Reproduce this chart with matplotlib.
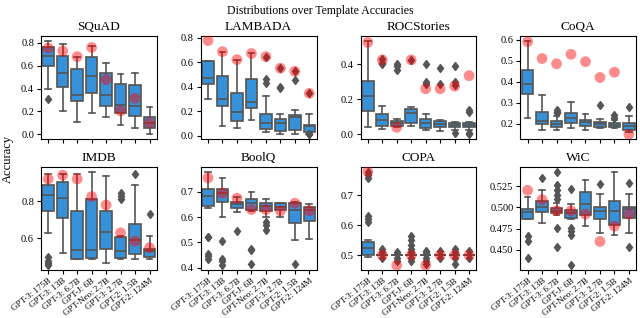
import matplotlib
matplotlib.use('Agg')
from matplotlib import pyplot as plt

plt.rcParams['font.family'] = ['Liberation Serif', 'DejaVu Serif']

# Models on the x axis.
models = ['GPT-3: 175B', 'GPT-3: 13B', 'GPT-3: 6.7B', 'GPT-J: 6B',
          'GPT-Neo: 2.7B', 'GPT-3: 2.7B', 'GPT-2: 1.5B', 'GPT-2: 124M']

# Box stats per model: [whisker low, q1, median, q3, whisker high].
squad_boxes = [[0.40, 0.60, 0.685, 0.76, 0.82], [0.20, 0.41, 0.54, 0.685, 0.79],
               [0.11, 0.29, 0.34, 0.57, 0.68], [0.185, 0.36, 0.51, 0.68, 0.77],
               [0.15, 0.245, 0.34, 0.54, 0.62], [0.08, 0.19, 0.26, 0.44, 0.53],
               [0.055, 0.16, 0.245, 0.43, 0.54], [0.0, 0.055, 0.10, 0.155, 0.235]]
squad_fliers = [[0.31], [], [], [], [], [], [], []]
squad_best = [0.755, 0.73, 0.68, 0.76, 0.48, 0.205, 0.315, 0.10]

lambada_boxes = [[0.30, 0.42, 0.47, 0.61, 0.61], [0.08, 0.24, 0.30, 0.485, 0.68],
                 [0.065, 0.12, 0.19, 0.345, 0.62], [0.13, 0.225, 0.27, 0.465, 0.67],
                 [0.03, 0.055, 0.105, 0.175, 0.325], [0.01, 0.035, 0.10, 0.135, 0.175],
                 [0.015, 0.045, 0.15, 0.165, 0.205], [0.01, 0.03, 0.08, 0.09, 0.18]]
lambada_fliers = [[], [], [], [], [0.465, 0.43, 0.645], [0.40, 0.385, 0.55],
                  [0.45, 0.525], [0.345, 0.01, 0.015]]
lambada_best = [0.775, 0.685, 0.62, 0.67, 0.645, 0.55, 0.525, 0.345]

roc_boxes = [[0.04, 0.135, 0.22, 0.305, 0.535], [0.03, 0.05, 0.08, 0.115, 0.16],
             [0.04, 0.045, 0.065, 0.075, 0.085], [0.045, 0.065, 0.12, 0.145, 0.155],
             [0.025, 0.035, 0.065, 0.09, 0.115], [0.02, 0.04, 0.06, 0.075, 0.08],
             [0.025, 0.04, 0.055, 0.065, 0.07], [0.025, 0.04, 0.055, 0.065, 0.07]]
roc_fliers = [[], [0.43, 0.41, 0.40], [0.40, 0.39, 0.37], [0.425],
              [0.40, 0.30, 0.29], [0.38, 0.29], [0.39, 0.30, 0.28, 0.005],
              [0.14, 0.13, 0.01, 0.0]]
roc_best = [0.525, 0.425, 0.04, 0.425, 0.26, 0.26, 0.275, 0.335]

coqa_boxes = [[0.23, 0.34, 0.39, 0.455, 0.595], [0.17, 0.20, 0.215, 0.255, 0.335],
              [0.17, 0.185, 0.20, 0.215, 0.235], [0.18, 0.205, 0.23, 0.25, 0.305],
              [0.17, 0.19, 0.21, 0.22, 0.245], [0.18, 0.185, 0.20, 0.21, 0.225],
              [0.18, 0.185, 0.195, 0.205, 0.22], [0.16, 0.17, 0.19, 0.205, 0.235]]
coqa_fliers = [[], [], [0.265, 0.255, 0.25], [], [], [0.29], [0.24, 0.23], [0.28]]
coqa_best = [0.59, 0.51, 0.485, 0.53, 0.495, 0.42, 0.445, 0.15]

imdb_boxes = [[0.63, 0.75, 0.835, 0.89, 0.945], [0.52, 0.71, 0.82, 0.905, 0.945],
              [0.49, 0.49, 0.54, 0.75, 0.945], [0.49, 0.495, 0.54, 0.81, 0.96],
              [0.465, 0.545, 0.635, 0.745, 0.935], [0.49, 0.495, 0.53, 0.61, 0.615],
              [0.49, 0.515, 0.59, 0.68, 0.885], [0.49, 0.50, 0.53, 0.545, 0.615]]
imdb_fliers = [[0.50, 0.48, 0.47, 0.455], [], [], [], [], [0.845, 0.83, 0.81],
               [0.945], [0.73]]
imdb_best = [0.92, 0.94, 0.92, 0.825, 0.78, 0.63, 0.585, 0.55]

boolq_boxes = [[0.635, 0.645, 0.685, 0.71, 0.78], [0.60, 0.66, 0.695, 0.71, 0.755],
               [0.62, 0.635, 0.65, 0.66, 0.68], [0.625, 0.63, 0.655, 0.67, 0.70],
               [0.60, 0.625, 0.645, 0.655, 0.67], [0.60, 0.63, 0.64, 0.655, 0.655],
               [0.51, 0.575, 0.63, 0.655, 0.66], [0.515, 0.585, 0.63, 0.64, 0.65]]
boolq_fliers = [[0.52, 0.52, 0.455, 0.445, 0.435], [0.505, 0.435, 0.425, 0.41],
                [0.545], [0.475, 0.47, 0.415], [0.58, 0.57, 0.55], [], [0.415], []]
boolq_best = [0.755, 0.695, 0.675, 0.63, 0.63, 0.625, 0.655, 0.625]

copa_boxes = [[0.495, 0.50, 0.525, 0.545, 0.55], [0.5, 0.5, 0.5, 0.5, 0.5],
              [0.5, 0.5, 0.5, 0.5, 0.5], [0.5, 0.5, 0.5, 0.5, 0.5],
              [0.5, 0.5, 0.5, 0.5, 0.5], [0.5, 0.5, 0.5, 0.5, 0.5],
              [0.5, 0.5, 0.5, 0.5, 0.5], [0.5, 0.5, 0.5, 0.5, 0.5]]
copa_fliers = [[0.78, 0.77, 0.76, 0.63, 0.62, 0.61], [0.52, 0.51, 0.49],
               [0.51, 0.505, 0.49, 0.48], [0.565, 0.55, 0.535, 0.52, 0.51, 0.49, 0.48],
               [0.515, 0.51, 0.505, 0.49, 0.48, 0.47], [0.515, 0.49],
               [0.52, 0.51, 0.49, 0.47], [0.515, 0.49]]
copa_best = [0.78, 0.5, 0.466, 0.5, 0.466, 0.5, 0.5, 0.5]

wic_boxes = [[0.486, 0.486, 0.495, 0.498, 0.512], [0.482, 0.495, 0.501, 0.508, 0.520],
             [0.491, 0.493, 0.496, 0.499, 0.505], [0.486, 0.488, 0.493, 0.497, 0.504],
             [0.478, 0.491, 0.504, 0.518, 0.532], [0.470, 0.486, 0.496, 0.501, 0.516],
             [0.467, 0.479, 0.496, 0.507, 0.542], [0.470, 0.487, 0.498, 0.500, 0.516]]
wic_fliers = [[0.466, 0.46, 0.44], [0.535],
              [0.541, 0.526, 0.52, 0.515, 0.51, 0.476, 0.453],
              [0.522, 0.476, 0.472, 0.468, 0.432], [], [0.527], [], [0.528, 0.453]]
wic_best = [0.52, 0.509, 0.496, 0.496, 0.492, 0.460, 0.478, 0.492]

panels = [
  ('SQuAD', squad_boxes, squad_fliers, squad_best, [0.0, 0.2, 0.4, 0.6, 0.8], '%.1f'),
  ('LAMBADA', lambada_boxes, lambada_fliers, lambada_best, [0.0, 0.2, 0.4, 0.6, 0.8], '%.1f'),
  ('ROCStories', roc_boxes, roc_fliers, roc_best, [0.0, 0.2, 0.4], '%.1f'),
  ('CoQA', coqa_boxes, coqa_fliers, coqa_best, [0.2, 0.3, 0.4, 0.5, 0.6], '%.1f'),
  ('IMDB', imdb_boxes, imdb_fliers, imdb_best, [0.6, 0.8], '%.1f'),
  ('BoolQ', boolq_boxes, boolq_fliers, boolq_best, [0.4, 0.5, 0.6, 0.7], '%.1f'),
  ('COPA', copa_boxes, copa_fliers, copa_best, [0.5, 0.6, 0.7], '%.1f'),
  ('WiC', wic_boxes, wic_fliers, wic_best, [0.450, 0.475, 0.500, 0.525], '%.3f'),
]

boxColor = '#3691d8'
edgeColor = '#555555'

fig, axes = plt.subplots(2, 4, figsize=(6.4, 3.18), dpi=100)
fig.subplots_adjust(left=0.064, right=0.994, bottom=0.151, top=0.887,
                    wspace=0.38, hspace=0.27)

for i, (name, boxes, fliers, best, yticks, fmt) in enumerate(panels):
  ax = axes.flat[i]
  stats = []
  for b, f in zip(boxes, fliers):
    stats.append({'whislo': b[0], 'q1': b[1], 'med': b[2], 'q3': b[3],
                  'whishi': b[4], 'fliers': f})
  pos = list(range(len(models)))
  ax.bxp(stats, positions=pos, widths=0.8, patch_artist=True,
         boxprops=dict(facecolor=boxColor, edgecolor=edgeColor, linewidth=1.2),
         medianprops=dict(color=edgeColor, linewidth=1.2),
         whiskerprops=dict(color=edgeColor, linewidth=1.2),
         capprops=dict(color=edgeColor, linewidth=1.2),
         flierprops=dict(marker='d', markersize=4.5, markerfacecolor=edgeColor,
                         markeredgecolor=edgeColor, linestyle='none'))
  ax.scatter(pos, best, s=60, color='red', alpha=0.45, edgecolors='none', zorder=5)
  ax.set_xlim(-0.5, len(models) - 0.5)
  ax.set_yticks(yticks)
  ax.set_yticklabels([fmt % t for t in yticks])
  ax.set_title(name, fontsize=9.5, pad=4)
  ax.tick_params(labelsize=7.5, length=3, pad=2)
  ax.set_xticks(pos)
  if i >= 4:
    ax.set_xticklabels(models, rotation=38, ha='right', rotation_mode='anchor',
                       fontsize=6.5)
  else:
    ax.set_xticklabels([])

fig.suptitle('Distributions over Template Accuracies', fontsize=8.5, y=0.985)
fig.text(0.012, 0.5, 'Accuracy', rotation=90, va='center', ha='center', fontsize=9)

fig.savefig('out.png')
